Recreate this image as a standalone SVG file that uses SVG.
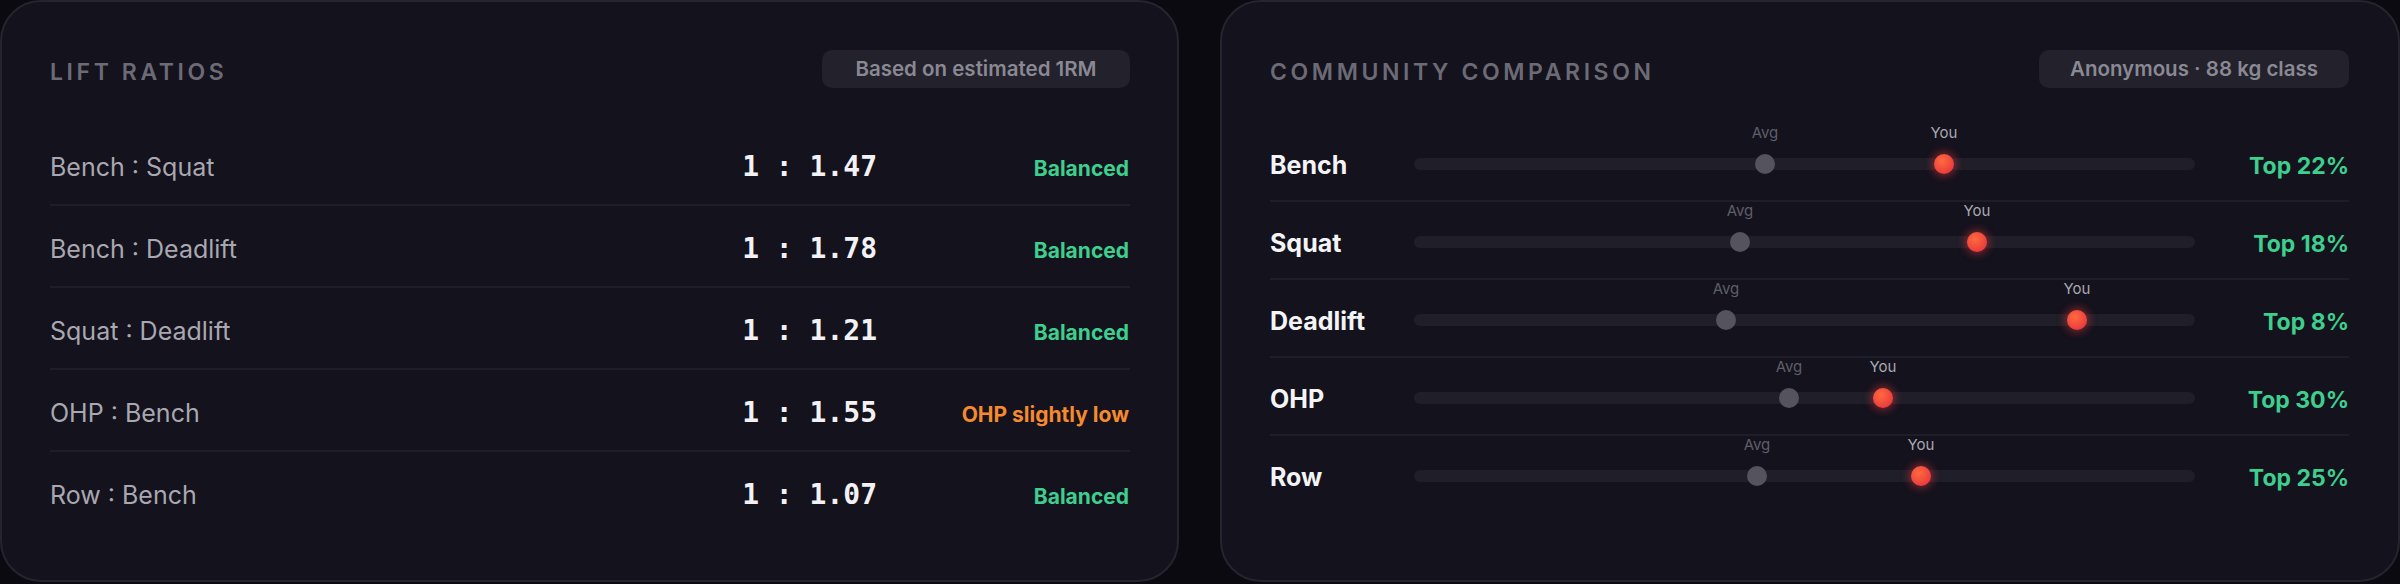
<svg xmlns="http://www.w3.org/2000/svg" width="2400" height="584" viewBox="0 0 2400 584">
<defs>
<radialGradient id="you" cx="40%" cy="35%" r="70%"><stop offset="0" stop-color="#ff6a3d"/><stop offset="1" stop-color="#e8383e"/></radialGradient>
<filter id="glow" x="-100%" y="-100%" width="300%" height="300%"><feGaussianBlur stdDeviation="4"/></filter>
<style>
.panel{fill:#13121d;stroke:#25242f;stroke-width:2}
.title{font-family:Inter,"Liberation Sans",sans-serif;font-size:23px;font-weight:600;letter-spacing:3.6px;fill:#6c6b75}
.badge{fill:#22212c}
.btxt{font-family:Inter,"Liberation Sans",sans-serif;font-size:20.5px;font-weight:600;fill:#8a8993}
.lbl{font-family:Inter,"Liberation Sans",sans-serif;font-size:25px;fill:#a9a8b0}
.ratio{font-family:"DejaVu Sans Mono","Liberation Mono",monospace;font-size:28px;font-weight:600;fill:#f2f2f5}
.ok{font-family:Inter,"Liberation Sans",sans-serif;font-size:21px;font-weight:700;fill:#3ecf8e}
.warn{font-family:Inter,"Liberation Sans",sans-serif;font-size:21px;font-weight:700;fill:#f58a2e}
.div{stroke:#1e1d28;stroke-width:2}
.lift{font-family:Inter,"Liberation Sans",sans-serif;font-size:25px;font-weight:700;fill:#f4f4f7}
.track{fill:#1f1e29}
.avg{fill:#55545e}
.small{font-family:Inter,"Liberation Sans",sans-serif;font-size:15px;fill:#5f5e68;text-anchor:middle}
.smallY{font-family:Inter,"Liberation Sans",sans-serif;font-size:15px;fill:#a9a8b0;text-anchor:middle}
.top{font-family:Inter,"Liberation Sans",sans-serif;font-size:23px;font-weight:700;fill:#3ecf8e;text-anchor:end}
</style>
</defs>
<rect width="2400" height="584" fill="#0b0a10"/>
<g id="lift-ratios">
<rect class="panel" x="1" y="1" width="1177" height="580" rx="40"/>
<text class="title" x="50" y="80">LIFT RATIOS</text>
<rect class="badge" x="822" y="50" width="308" height="38" rx="10"/>
<text class="btxt" x="976" y="76" text-anchor="middle">Based on estimated 1RM</text>
<g id="r1"><text class="lbl" x="50" y="176">Bench : Squat</text><text class="ratio" x="877" y="176" text-anchor="end">1 : 1.47</text><text class="ok" x="1129" y="176" text-anchor="end">Balanced</text><line class="div" x1="50" y1="205" x2="1130" y2="205"/></g>
<g id="r2"><text class="lbl" x="50" y="258">Bench : Deadlift</text><text class="ratio" x="877" y="258" text-anchor="end">1 : 1.78</text><text class="ok" x="1129" y="258" text-anchor="end">Balanced</text><line class="div" x1="50" y1="287" x2="1130" y2="287"/></g>
<g id="r3"><text class="lbl" x="50" y="340">Squat : Deadlift</text><text class="ratio" x="877" y="340" text-anchor="end">1 : 1.21</text><text class="ok" x="1129" y="340" text-anchor="end">Balanced</text><line class="div" x1="50" y1="369" x2="1130" y2="369"/></g>
<g id="r4"><text class="lbl" x="50" y="422">OHP : Bench</text><text class="ratio" x="877" y="422" text-anchor="end">1 : 1.55</text><text class="warn" x="1129" y="422" text-anchor="end">OHP slightly low</text><line class="div" x1="50" y1="451" x2="1130" y2="451"/></g>
<g id="r5"><text class="lbl" x="50" y="504">Row : Bench</text><text class="ratio" x="877" y="504" text-anchor="end">1 : 1.07</text><text class="ok" x="1129" y="504" text-anchor="end">Balanced</text></g>
</g>
<g id="community">
<rect class="panel" x="1221" y="1" width="1178" height="580" rx="40"/>
<text class="title" x="1270" y="80">COMMUNITY COMPARISON</text>
<rect class="badge" x="2039" y="50" width="310" height="38" rx="10"/>
<text class="btxt" x="2194" y="76" text-anchor="middle">Anonymous · 88 kg class</text>
<g id="c1"><text class="lift" x="1270" y="174">Bench</text><rect class="track" x="1414" y="158" width="781" height="12" rx="6"/><text class="small" x="1765" y="138">Avg</text><circle class="avg" cx="1765" cy="164" r="10"/><text class="smallY" x="1944" y="138">You</text><circle cx="1944" cy="164" r="12" fill="#e8383e" opacity="0.5" filter="url(#glow)"/><circle cx="1944" cy="164" r="10" fill="url(#you)"/><text class="top" x="2349" y="174">Top 22%</text><line class="div" x1="1270" y1="201" x2="2349" y2="201"/></g>
<g id="c2"><text class="lift" x="1270" y="252">Squat</text><rect class="track" x="1414" y="236" width="781" height="12" rx="6"/><text class="small" x="1740" y="216">Avg</text><circle class="avg" cx="1740" cy="242" r="10"/><text class="smallY" x="1977" y="216">You</text><circle cx="1977" cy="242" r="12" fill="#e8383e" opacity="0.5" filter="url(#glow)"/><circle cx="1977" cy="242" r="10" fill="url(#you)"/><text class="top" x="2349" y="252">Top 18%</text><line class="div" x1="1270" y1="279" x2="2349" y2="279"/></g>
<g id="c3"><text class="lift" x="1270" y="330">Deadlift</text><rect class="track" x="1414" y="314" width="781" height="12" rx="6"/><text class="small" x="1726" y="294">Avg</text><circle class="avg" cx="1726" cy="320" r="10"/><text class="smallY" x="2077" y="294">You</text><circle cx="2077" cy="320" r="12" fill="#e8383e" opacity="0.5" filter="url(#glow)"/><circle cx="2077" cy="320" r="10" fill="url(#you)"/><text class="top" x="2349" y="330">Top 8%</text><line class="div" x1="1270" y1="357" x2="2349" y2="357"/></g>
<g id="c4"><text class="lift" x="1270" y="408">OHP</text><rect class="track" x="1414" y="392" width="781" height="12" rx="6"/><text class="small" x="1789" y="372">Avg</text><circle class="avg" cx="1789" cy="398" r="10"/><text class="smallY" x="1883" y="372">You</text><circle cx="1883" cy="398" r="12" fill="#e8383e" opacity="0.5" filter="url(#glow)"/><circle cx="1883" cy="398" r="10" fill="url(#you)"/><text class="top" x="2349" y="408">Top 30%</text><line class="div" x1="1270" y1="435" x2="2349" y2="435"/></g>
<g id="c5"><text class="lift" x="1270" y="486">Row</text><rect class="track" x="1414" y="470" width="781" height="12" rx="6"/><text class="small" x="1757" y="450">Avg</text><circle class="avg" cx="1757" cy="476" r="10"/><text class="smallY" x="1921" y="450">You</text><circle cx="1921" cy="476" r="12" fill="#e8383e" opacity="0.5" filter="url(#glow)"/><circle cx="1921" cy="476" r="10" fill="url(#you)"/><text class="top" x="2349" y="486">Top 25%</text></g>
</g>
<g id="connectors"/>
</svg>
